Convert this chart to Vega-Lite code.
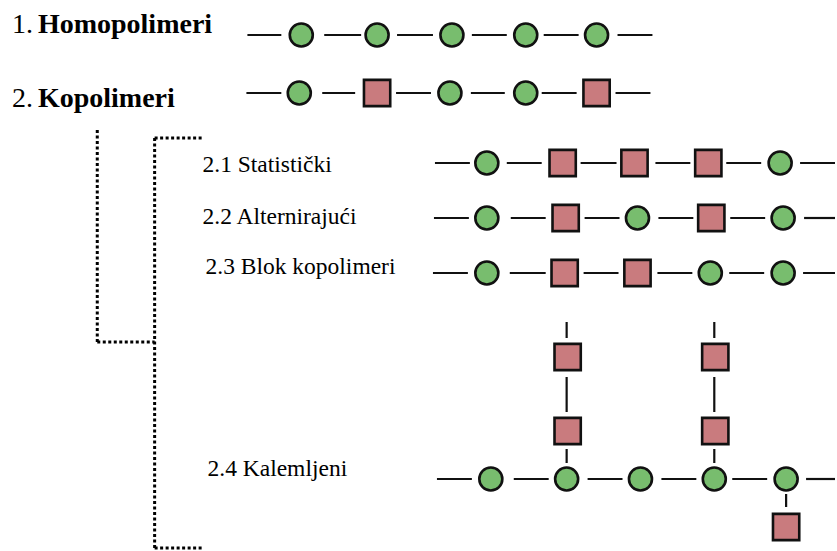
{
  "$schema": "https://vega.github.io/schema/vega-lite/v6.json",
  "width": 837,
  "height": 551,
  "autosize": {"type": "fit", "contains": "padding"},
  "padding": 0,
  "background": "white",
  "config": {"view": {"stroke": null}},
  "datasets": {
    "bonds": [
      {"x": 248, "x2": 282, "y": 35, "y2": 35}, {"x": 325, "x2": 362, "y": 35, "y2": 35}, {"x": 398, "x2": 434, "y": 35, "y2": 35}, {"x": 473, "x2": 508, "y": 35, "y2": 35}, {"x": 545, "x2": 580, "y": 35, "y2": 35}, {"x": 619, "x2": 654, "y": 35, "y2": 35},
      {"x": 247, "x2": 282, "y": 93, "y2": 93}, {"x": 323, "x2": 356, "y": 93, "y2": 93}, {"x": 397, "x2": 432, "y": 93, "y2": 93}, {"x": 472, "x2": 506, "y": 93, "y2": 93}, {"x": 543, "x2": 578, "y": 93, "y2": 93}, {"x": 617, "x2": 652, "y": 93, "y2": 93},
      {"x": 436, "x2": 471, "y": 163, "y2": 163}, {"x": 508, "x2": 543, "y": 163, "y2": 163}, {"x": 582, "x2": 618, "y": 163, "y2": 163}, {"x": 657, "x2": 692, "y": 163, "y2": 163}, {"x": 728, "x2": 763, "y": 163, "y2": 163}, {"x": 802, "x2": 837, "y": 163, "y2": 163},
      {"x": 435, "x2": 470, "y": 218, "y2": 218}, {"x": 512, "x2": 547, "y": 218, "y2": 218}, {"x": 586, "x2": 621, "y": 218, "y2": 218}, {"x": 660, "x2": 695, "y": 218, "y2": 218}, {"x": 732, "x2": 767, "y": 218, "y2": 218}, {"x": 806, "x2": 837, "y": 218, "y2": 218},
      {"x": 434, "x2": 469, "y": 273, "y2": 273}, {"x": 511, "x2": 547, "y": 273, "y2": 273}, {"x": 585, "x2": 620, "y": 273, "y2": 273}, {"x": 659, "x2": 694, "y": 273, "y2": 273}, {"x": 731, "x2": 766, "y": 273, "y2": 273}, {"x": 805, "x2": 837, "y": 273, "y2": 273},
      {"x": 438, "x2": 473, "y": 479, "y2": 479}, {"x": 515, "x2": 550, "y": 479, "y2": 479}, {"x": 589, "x2": 624, "y": 479, "y2": 479}, {"x": 663, "x2": 698, "y": 479, "y2": 479}, {"x": 734, "x2": 769, "y": 479, "y2": 479}, {"x": 808, "x2": 837, "y": 479, "y2": 479},
      {"x": 568, "x2": 568, "y": 322, "y2": 338}, {"x": 568, "x2": 568, "y": 377, "y2": 412}, {"x": 568, "x2": 568, "y": 449, "y2": 463},
      {"x": 716, "x2": 716, "y": 322, "y2": 338}, {"x": 716, "x2": 716, "y": 377, "y2": 412}, {"x": 716, "x2": 716, "y": 449, "y2": 463},
      {"x": 788, "x2": 788, "y": 494, "y2": 507}
    ],
    "units": [
      {"x": 302, "y": 35, "type": "A"}, {"x": 378, "y": 35, "type": "A"}, {"x": 453, "y": 35, "type": "A"}, {"x": 527, "y": 35, "type": "A"}, {"x": 598, "y": 35, "type": "A"},
      {"x": 300, "y": 93, "type": "A"}, {"x": 378, "y": 93, "type": "B"}, {"x": 451, "y": 93, "type": "A"}, {"x": 527, "y": 93, "type": "A"}, {"x": 598, "y": 93, "type": "B"},
      {"x": 488, "y": 163, "type": "A"}, {"x": 564, "y": 163, "type": "B"}, {"x": 636, "y": 163, "type": "B"}, {"x": 710, "y": 163, "type": "B"}, {"x": 782, "y": 163, "type": "A"},
      {"x": 488, "y": 218, "type": "A"}, {"x": 567, "y": 218, "type": "B"}, {"x": 639, "y": 218, "type": "A"}, {"x": 713, "y": 218, "type": "B"}, {"x": 785, "y": 218, "type": "A"},
      {"x": 488, "y": 273, "type": "A"}, {"x": 566, "y": 273, "type": "B"}, {"x": 639, "y": 273, "type": "B"}, {"x": 712, "y": 273, "type": "A"}, {"x": 785, "y": 273, "type": "A"},
      {"x": 492, "y": 479, "type": "A"}, {"x": 568, "y": 479, "type": "A"}, {"x": 642, "y": 479, "type": "A"}, {"x": 716, "y": 479, "type": "A"}, {"x": 788, "y": 479, "type": "A"},
      {"x": 569, "y": 357, "type": "B"}, {"x": 569, "y": 431, "type": "B"}, {"x": 717, "y": 357, "type": "B"}, {"x": 717, "y": 431, "type": "B"}, {"x": 788, "y": 527, "type": "B"}
    ],
    "bracket": [
      {"x": 97.5, "x2": 97.5, "y": 130, "y2": 342},
      {"x": 97.5, "x2": 155, "y": 342, "y2": 342},
      {"x": 155, "x2": 155, "y": 138, "y2": 548},
      {"x": 155, "x2": 203, "y": 138, "y2": 138},
      {"x": 155, "x2": 203, "y": 548, "y2": 548}
    ],
    "labels": [
      {"x": 12, "y": 33, "text": "1.", "weight": "normal", "size": 28},
      {"x": 38, "y": 33, "text": "Homopolimeri", "weight": "bold", "size": 28},
      {"x": 12, "y": 107, "text": "2.", "weight": "normal", "size": 28},
      {"x": 38, "y": 107, "text": "Kopolimeri", "weight": "bold", "size": 28},
      {"x": 203, "y": 172, "text": "2.1 Statistički", "weight": "normal", "size": 23.5},
      {"x": 203, "y": 224, "text": "2.2 Alternirajući", "weight": "normal", "size": 23.5},
      {"x": 206, "y": 274, "text": "2.3 Blok kopolimeri", "weight": "normal", "size": 23.5},
      {"x": 208, "y": 476, "text": "2.4 Kalemljeni", "weight": "normal", "size": 23.5}
    ]
  },
  "layer": [
    {
      "data": {"name": "bracket"},
      "mark": {"type": "rule", "color": "#000000", "strokeWidth": 3, "strokeDash": [3, 2.5], "strokeCap": "butt"},
      "encoding": {
        "x": {"field": "x", "type": "quantitative", "scale": {"domain": [0, 837], "nice": false, "zero": false}, "axis": null},
        "x2": {"field": "x2"},
        "y": {"field": "y", "type": "quantitative", "scale": {"domain": [0, 551], "nice": false, "zero": false, "reverse": true}, "axis": null},
        "y2": {"field": "y2"}
      }
    },
    {
      "data": {"name": "bonds"},
      "mark": {"type": "rule", "color": "#111111", "strokeWidth": 2.2, "strokeCap": "butt"},
      "encoding": {
        "x": {"field": "x", "type": "quantitative", "scale": {"domain": [0, 837], "nice": false, "zero": false}, "axis": null},
        "x2": {"field": "x2"},
        "y": {"field": "y", "type": "quantitative", "scale": {"domain": [0, 551], "nice": false, "zero": false, "reverse": true}, "axis": null},
        "y2": {"field": "y2"}
      }
    },
    {
      "data": {"name": "units"},
      "mark": {"type": "point", "filled": true, "opacity": 1, "stroke": "#111111", "strokeWidth": 2.6},
      "encoding": {
        "x": {"field": "x", "type": "quantitative", "scale": {"domain": [0, 837], "nice": false, "zero": false}, "axis": null},
        "y": {"field": "y", "type": "quantitative", "scale": {"domain": [0, 551], "nice": false, "zero": false, "reverse": true}, "axis": null},
        "shape": {"field": "type", "type": "nominal", "scale": {"domain": ["A", "B"], "range": ["circle", "square"]}, "legend": null},
        "fill": {"field": "type", "type": "nominal", "scale": {"domain": ["A", "B"], "range": ["#78BD6E", "#C97B7E"]}, "legend": null},
        "size": {"field": "type", "type": "nominal", "scale": {"domain": ["A", "B"], "range": [530, 690]}, "legend": null}
      }
    },
    {
      "data": {"name": "labels"},
      "transform": [{"filter": "datum.weight == 'normal'"}],
      "mark": {"type": "text", "align": "left", "baseline": "alphabetic", "font": "Liberation Serif", "fontWeight": "normal", "color": "#000000"},
      "encoding": {
        "x": {"field": "x", "type": "quantitative", "scale": {"domain": [0, 837], "nice": false, "zero": false}, "axis": null},
        "y": {"field": "y", "type": "quantitative", "scale": {"domain": [0, 551], "nice": false, "zero": false, "reverse": true}, "axis": null},
        "text": {"field": "text"},
        "size": {"field": "size", "type": "quantitative", "scale": null}
      }
    },
    {
      "data": {"name": "labels"},
      "transform": [{"filter": "datum.weight == 'bold'"}],
      "mark": {"type": "text", "align": "left", "baseline": "alphabetic", "font": "Liberation Serif", "fontWeight": "bold", "color": "#000000"},
      "encoding": {
        "x": {"field": "x", "type": "quantitative", "scale": {"domain": [0, 837], "nice": false, "zero": false}, "axis": null},
        "y": {"field": "y", "type": "quantitative", "scale": {"domain": [0, 551], "nice": false, "zero": false, "reverse": true}, "axis": null},
        "text": {"field": "text"},
        "size": {"field": "size", "type": "quantitative", "scale": null}
      }
    }
  ]
}
